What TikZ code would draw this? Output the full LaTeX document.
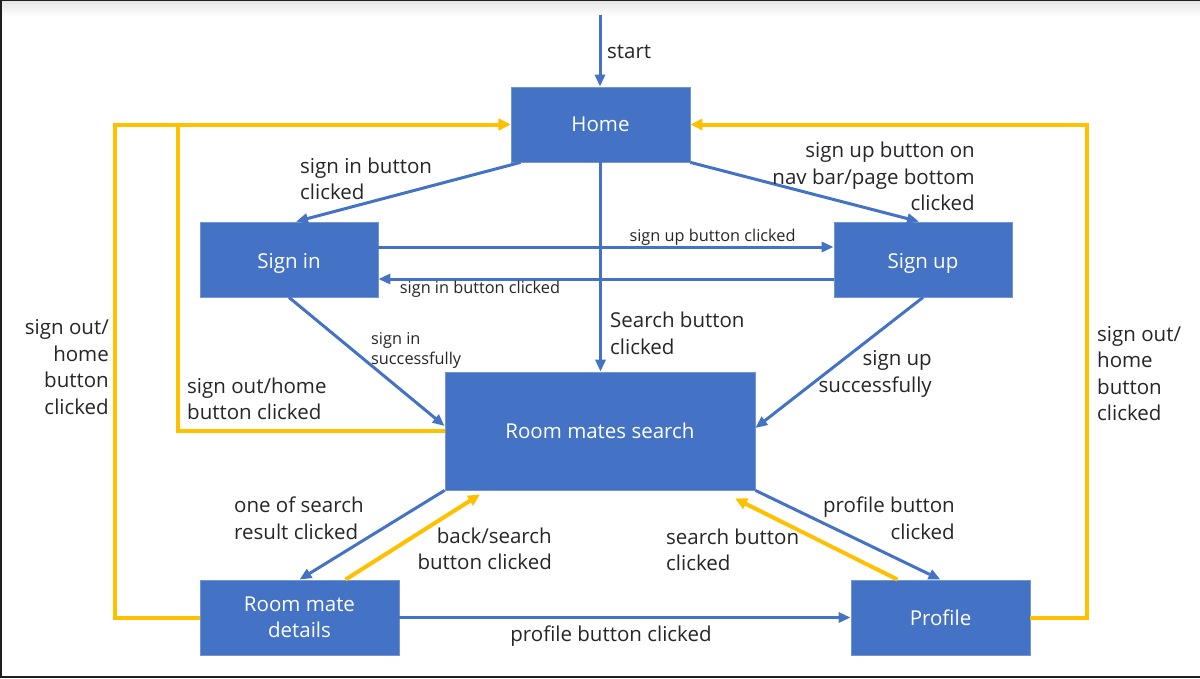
\documentclass[tikz,border=0pt]{standalone}
\usepackage{fontspec}
\setmainfont{Open Sans}
\usetikzlibrary{arrows.meta,positioning}
\definecolor{stblue}{RGB}{68,114,196}
\definecolor{styellow}{RGB}{255,192,0}
\definecolor{sttext}{RGB}{38,38,38}
\definecolor{stframe}{RGB}{30,30,30}

\begin{document}
\begin{tikzpicture}[x=1pt,y=-1pt,
  state/.style={fill=stblue, draw=stblue!75!white, line width=0.8pt, text=white,
    font=\fontsize{20.5}{26}\selectfont, align=center, inner sep=0pt},
  go/.style={draw=stblue, line width=3pt, -{Triangle[length=12pt,width=10pt]}},
  back/.style={draw=styellow, line width=4pt, -{Triangle[length=12pt,width=11pt]}},
  lbl/.style={text=sttext, font=\fontsize{20.5}{26.5}\selectfont, inner sep=0pt},
  small/.style={text=sttext, font=\fontsize{16.3}{20}\selectfont, inner sep=0pt}]
% Window frame
\fill[stframe] (0,0) rectangle (1200,678);
\fill[white] (2,1) rectangle (1200,676);
\shade[top color=black!10, bottom color=white] (2,1) rectangle (1200,16);
% States
\node[state, minimum width=179pt, minimum height=75pt] (home) at (600.5,124.5) {Home};
\node[state, minimum width=178pt, minimum height=75pt, text height=23pt] (signin) at (289,259.5) {Sign in};
\node[state, minimum width=178pt, minimum height=75pt, text height=23pt] (signup) at (923,259.5) {Sign up};
\node[state, minimum width=310pt, minimum height=118pt] (rms) at (600,431) {Room mates search};
\node[state, minimum width=199pt, minimum height=75pt] (details) at (299.5,617.5) {Room mate\\details};
\node[state, minimum width=179pt, minimum height=75pt] (profile) at (940.5,617.5) {Profile};
% Start
\coordinate (start) at (600,15);
\draw[go] (start) -- (start |- home.north);
\node[lbl, anchor=west] at (607,52) {start};
% From home
\draw[go] ([xshift=-80pt]home.south) -- ([xshift=7pt]signin.north);
\node[lbl, anchor=west, align=left] at (300,179) {sign in button\\clicked};
\draw[go] (home.south east) -- ([xshift=-4pt]signup.north);
\node[lbl, anchor=east, align=right] at (975,176.5) {sign up button on\\nav bar/page bottom\\clicked};
\draw[go] (home.south) -- (home.south |- rms.north);
\node[lbl, anchor=west, align=left] at (610,333.5) {Search button\\clicked};
% Between sign in and sign up
\draw[go] ([yshift=12.5pt]signin.east) -- ([yshift=12.5pt]signup.west);
\node[small] at (712.5,237) {sign up button clicked};
\draw[go] ([yshift=-19.5pt]signup.west) -- ([yshift=-19.5pt]signin.east);
\node[small] at (480,289) {sign in button clicked};
% Into room mates search
\draw[go] (signin.south) -- ([yshift=5pt]rms.west);
\node[small, anchor=west, align=left] at (371,350) {sign in\\successfully};
\draw[go] (signup.south) -- ([yshift=3pt]rms.east);
\node[lbl, anchor=east, align=right] at (932,374) {sign up\\successfully};
% Room mates search and details
\draw[go] (rms.south west) -- (details.north);
\node[lbl, anchor=west, align=left] at (234,518) {one of search\\result clicked};
\draw[back] ([xshift=46pt]details.north) -- ([xshift=-120pt,yshift=-4pt]rms.south);
\node[lbl, anchor=east, align=right] at (552,549) {back/search\\button clicked};
% Room mates search and profile
\draw[go] (rms.south east) -- (profile.north);
\node[lbl, anchor=east, align=right] at (955,518) {profile button\\clicked};
\draw[back] ([xshift=-43pt]profile.north) -- ([xshift=135pt,yshift=-8pt]rms.south);
\node[lbl, anchor=west, align=left] at (666,550) {search button\\clicked};
% Details to profile
\draw[go] (details.east) -- (profile.west);
\node[lbl] at (611,636) {profile button clicked};
% Back to home
\draw[back] (details.west) -- ++(-85,0) |- (home.west);
\node[lbl, anchor=east, align=right] at (109,367) {sign out/\\home\\button\\clicked};
\draw[back] (rms.west) -- (178,431) |- (home.west);
\node[lbl, anchor=west, align=left] at (187,399) {sign out/home\\button clicked};
\draw[back] (profile.east) -- ++(57,0) |- (home.east);
\node[lbl, anchor=west, align=left] at (1097,373.5) {sign out/\\home\\button\\clicked};
\end{tikzpicture}
\end{document}
